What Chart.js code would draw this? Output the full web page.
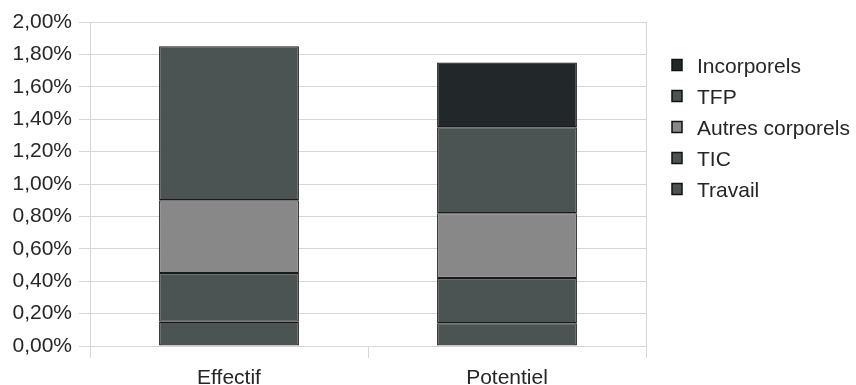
<!DOCTYPE html>
<html>
<head>
<meta charset="utf-8">
<script src="https://cdn.jsdelivr.net/npm/chart.js@4/dist/chart.umd.min.js"></script>
<style>
  html, body { margin: 0; padding: 0; background: #ffffff; }
  #wrap { width: 856px; height: 385px; }
</style>
</head>
<body>
<div id="wrap"><canvas id="c" width="856" height="385"></canvas></div>
<script>
// Contributions to growth, in percentage points
const categories = ['Effectif', 'Potentiel'];
const seriesNames = ['Travail', 'TIC', 'Autres corporels', 'TFP', 'Incorporels'];
const travail = [0.15, 0.14];
const tic = [0.30, 0.28];
const autresCorporels = [0.45, 0.40];
const tfp = [0.95, 0.53];
const incorporels = [null, 0.40];
const yTickLabels = ['0,00%', '0,20%', '0,40%', '0,60%', '0,80%', '1,00%',
                     '1,20%', '1,40%', '1,60%', '1,80%', '2,00%'];

const seriesValues = [travail, tic, autresCorporels, tfp, incorporels];
const seriesColors = ['#4b5452', '#4b5452', '#878887', '#4b5452', '#222829'];

const FONT = { family: "'Liberation Sans', Arial, sans-serif", size: 21 };
const GRID = '#d6d6d6';
const TEXT = '#262626';

// Right-hand frame line of the plot area
const frameRight = {
  id: 'frameRight',
  beforeDatasetsDraw(chart) {
    const { ctx, chartArea } = chart;
    ctx.save();
    ctx.strokeStyle = GRID;
    ctx.lineWidth = 1;
    ctx.beginPath();
    ctx.moveTo(Math.round(chartArea.right) + 0.5, chartArea.top);
    ctx.lineTo(Math.round(chartArea.right) + 0.5, chartArea.bottom);
    ctx.stroke();
    ctx.restore();
  }
};

// Legend listed top-down in reverse stacking order
const sideLegend = {
  id: 'sideLegend',
  afterDraw(chart) {
    const { ctx } = chart;
    const sets = chart.data.datasets.slice().reverse();
    ctx.save();
    ctx.font = `${FONT.size}px ${FONT.family}`;
    ctx.textBaseline = 'middle';
    ctx.textAlign = 'left';
    sets.forEach((ds, i) => {
      const cy = 65 + i * 31;
      ctx.fillStyle = ds.backgroundColor;
      ctx.fillRect(672, cy - 5.5, 10, 11);
      ctx.strokeStyle = '#111';
      ctx.lineWidth = 1.5;
      ctx.strokeRect(672, cy - 5.5, 10, 11);
      ctx.fillStyle = TEXT;
      ctx.fillText(ds.label, 697, cy + 2);
    });
    ctx.restore();
  }
};

new Chart(document.getElementById('c'), {
  type: 'bar',
  data: {
    labels: categories,
    datasets: seriesNames.map((name, i) => ({
      label: name,
      data: seriesValues[i],
      backgroundColor: seriesColors[i],
      borderColor: '#1a1a1a',
      borderWidth: 1.2,
      borderSkipped: false,
      categoryPercentage: 1,
      barPercentage: 0.503
    }))
  },
  options: {
    responsive: false,
    animation: false,
    devicePixelRatio: 1,
    layout: { padding: { left: 0, top: 22, right: 210, bottom: 0 } },
    plugins: { legend: { display: false }, tooltip: { enabled: false }, title: { display: false } },
    scales: {
      x: {
        stacked: true,
        offset: true,
        grid: { offset: true, drawOnChartArea: false, tickLength: 12, color: GRID },
        border: { display: true, color: GRID },
        ticks: { font: FONT, color: TEXT, padding: 8 },
        afterFit(scale) { scale.height = 39; }
      },
      y: {
        stacked: true,
        min: 0,
        max: 2,
        ticks: {
          stepSize: 0.2,
          font: FONT,
          color: TEXT,
          padding: 7,
          callback: (v, i) => yTickLabels[i]
        },
        grid: { color: GRID, tickLength: 11 },
        border: { display: true, color: GRID },
        afterFit(scale) { scale.width = 90; }
      }
    }
  },
  plugins: [frameRight, sideLegend]
});
</script>
</body>
</html>
